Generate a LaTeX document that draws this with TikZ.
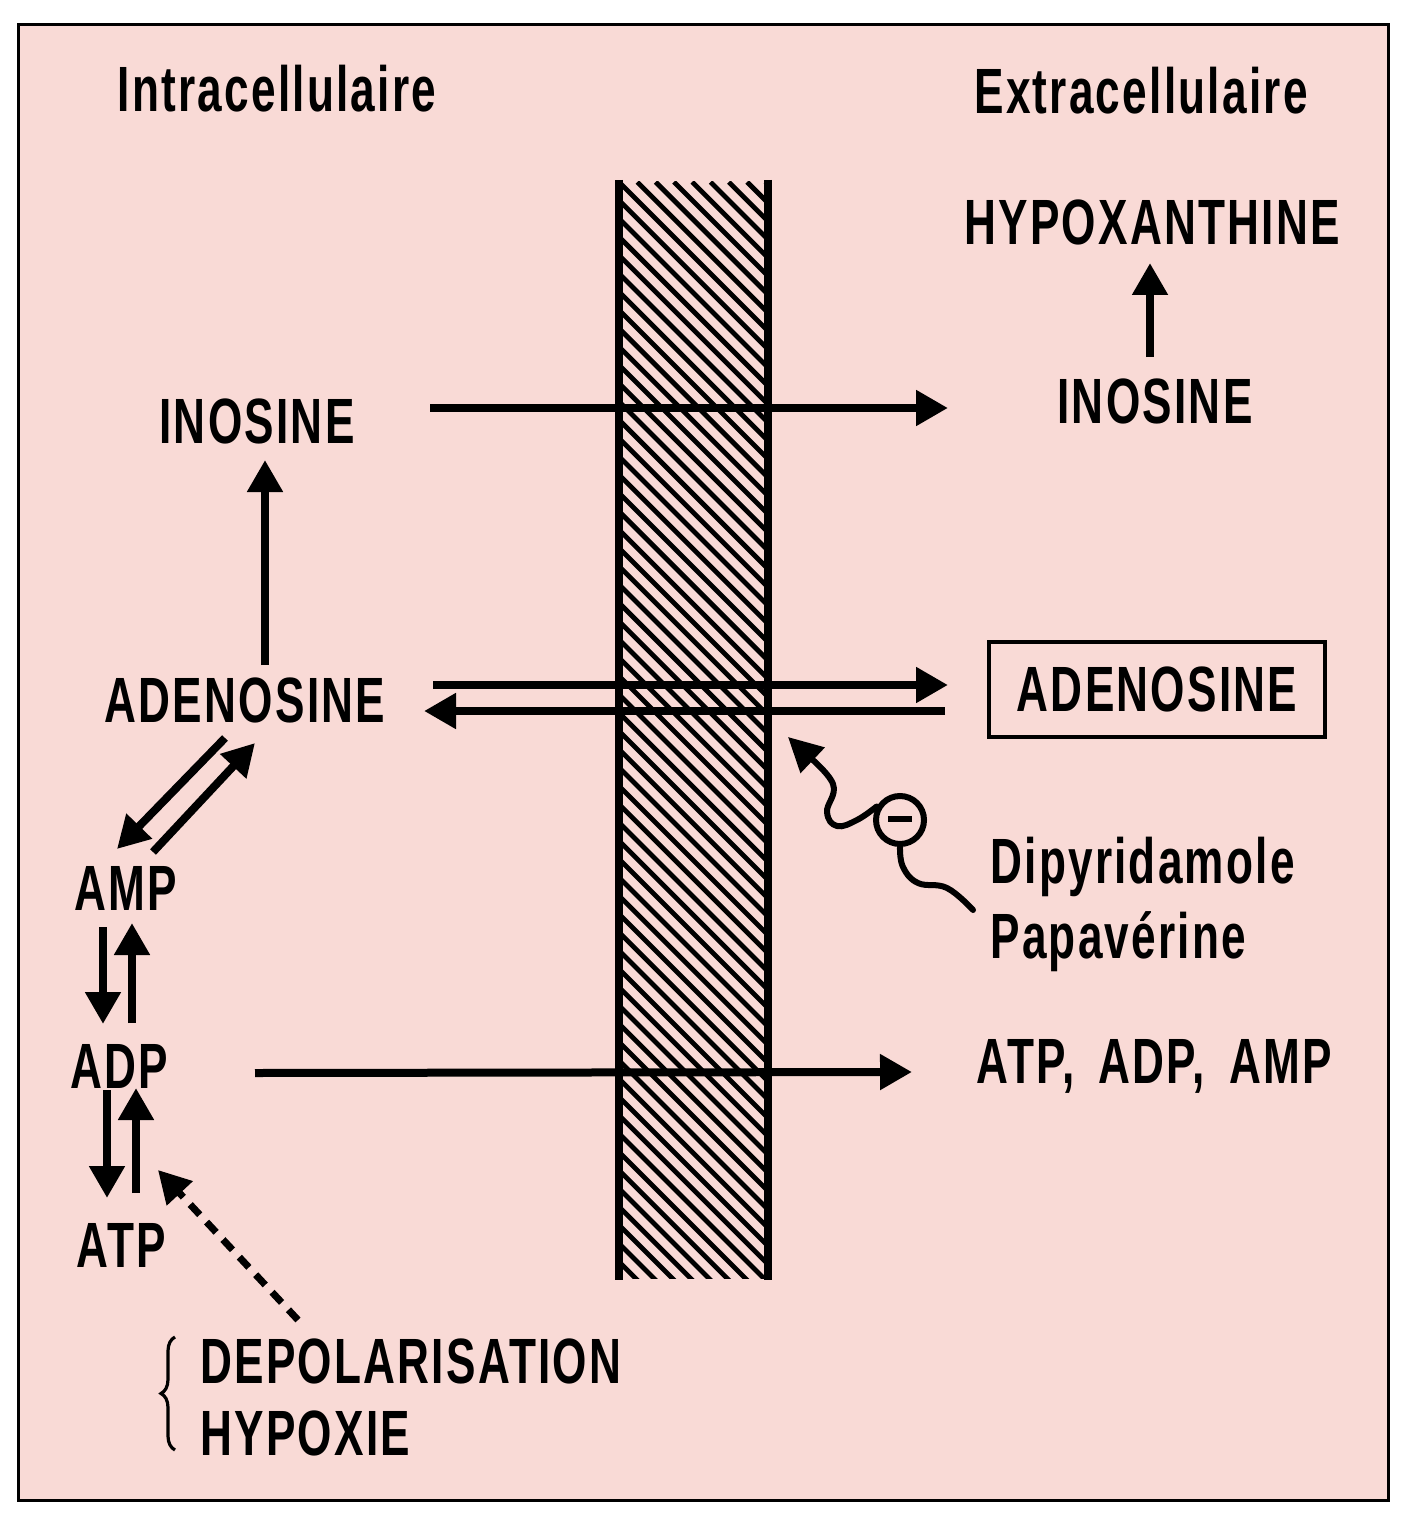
\documentclass[tikz,border=0pt]{standalone}
\usepackage{fontspec}
\setmainfont{Liberation Sans}[FakeStretch=0.69, LetterSpace=3.5]
\usetikzlibrary{arrows.meta,decorations.pathreplacing}
\definecolor{bgpink}{RGB}{249,218,214}
\begin{document}
\begin{tikzpicture}[x=0.5pt,y=-0.5pt,
  lbl/.style={inner sep=0pt, anchor=base, font=\fontsize{32}{38}\selectfont\bfseries},
  arr/.style={line width=4pt, -{Triangle[length=16pt,width=17pt]}},
  dasharr/.style={line width=3.5pt, dash pattern=on 7pt off 5pt, -{Triangle[length=16pt,width=17pt]}},
  frame/.style={line width=1.5pt},
  memb/.style={line width=4pt},
  hatch/.style={line width=2.4pt},
  wavy/.style={line width=3pt, line cap=round},
  inhib/.style={circle, draw, line width=3pt, minimum size=24pt, inner sep=0pt},
  bracestyle/.style={line width=1.6pt, decorate, decoration={brace, amplitude=7pt}}
]
\useasboundingbox (0,0) rectangle (1404,1524);
\fill[white] (0,0) rectangle (1404,1524);
\draw[frame, fill=bgpink] (18,25) rectangle (1388,1500);

% membrane
\begin{scope}
  \clip (619,182) rectangle (768,1278);
  \foreach \k in {-61,...,9} \draw[hatch] ({619+\k*18.3},182) -- ++(1150,1150);
\end{scope}
\draw[memb] (619,180) -- (619,1280);
\draw[memb] (768,180) -- (768,1280);

% labels
\node[lbl] (intra) at (277,112) {Intracellulaire};
\node[lbl] (extra) at (1141,114) {Extracellulaire};
\node[lbl] (hypo) at (1152,245) {HYPOXANTHINE};
\node[lbl] (inoE) at (1155,423) {INOSINE};
\node[lbl] (inoI) at (257,443) {INOSINE};
\node[lbl] (adoI) at (245,722) {ADENOSINE};
\node[lbl, anchor=center, draw, line width=2pt, minimum width=168pt, minimum height=47.5pt] (adoE) at (1157,689.5) {ADENOSINE};
\node[lbl] (amp) at (126,910) {AMP};
\node[lbl] (adp) at (119,1088) {ADP};
\node[lbl] (atp) at (121,1267) {ATP};
\node[lbl] (pool) at (1154,1083) {ATP,\hspace{0.15em} ADP,\hspace{0.15em} AMP};
\node[lbl, anchor=base west] (dipy) at (990,883) {Dipyridamole};
\node[lbl, anchor=base west] (papa) at (990,958) {Papavérine};
\node[lbl, anchor=base west] (depol) at (200,1383) {DEPOLARISATION};
\node[lbl, anchor=base west] (hypox) at (200,1455) {HYPOXIE};

% connector end points
\coordinate (inoIout) at (430,408);
\coordinate (inoEin) at (948,408);
\coordinate (inoEup) at (1150,357);
\coordinate (hypoin) at (1150,263);
\coordinate (adoIup) at (265,665);
\coordinate (inoIin) at (265,460);
\coordinate (adoIout) at (433,685);
\coordinate (adoEin) at (948,685);
\coordinate (adoEout) at (945,711);
\coordinate (adoIin) at (424,711);
\coordinate (adoIdl) at (225,738);
\coordinate (ampin) at (117,849);
\coordinate (ampout) at (153,852);
\coordinate (adoIdr) at (255,743);
\coordinate (ampdn) at (103,927);
\coordinate (adpinT) at (103,1024);
\coordinate (adpupT) at (132,1023);
\coordinate (ampinB) at (132,923);
\coordinate (adpdn) at (107,1090);
\coordinate (atpin) at (107,1198);
\coordinate (atpup) at (136,1193);
\coordinate (adpinB) at (136,1088);
\coordinate (depolout) at (298,1320);
\coordinate (atpside) at (158,1170);
\coordinate (adpout) at (255,1073);
\coordinate (poolin) at (912,1072);
\coordinate (membsite) at (788,737);
\coordinate (drugtail) at (973,910);

% arrows
\draw[arr] (inoIout) -- (inoEin);
\draw[arr] (inoEup) -- (hypoin);
\draw[arr] (adoIup) -- (inoIin);
\draw[arr] (adoIout) -- (adoEin);
\draw[arr] (adoEout) -- (adoIin);
\draw[arr] (adoIdl) -- (ampin);
\draw[arr] (ampout) -- (adoIdr);
\draw[arr] (ampdn) -- (adpinT);
\draw[arr] (adpupT) -- (ampinB);
\draw[arr] (adpdn) -- (atpin);
\draw[arr] (atpup) -- (adpinB);
\draw[dasharr] (depolout) -- (atpside);
\draw[arr] (adpout) -- (poolin);

% inhibition by drugs
\node[inhib] (minus) at (900,820) {};
\draw[line width=3pt] ([xshift=-6pt,yshift=0.5pt]minus.center) -- ([xshift=6pt,yshift=0.5pt]minus.center);
\draw[wavy, -{Triangle[length=17pt,width=17pt]}] plot[smooth, tension=0.7] coordinates {(minus.150) (857,820) (837,826) (827,812) (833,784) (806,754)} -- (membsite);
\draw[wavy] plot[smooth, tension=0.7] coordinates {(minus.south) (903,867) (918,883) (947,888) (drugtail)};

% brace
\draw[bracestyle] (175,1450) -- (175,1337);
\end{tikzpicture}
\end{document}
